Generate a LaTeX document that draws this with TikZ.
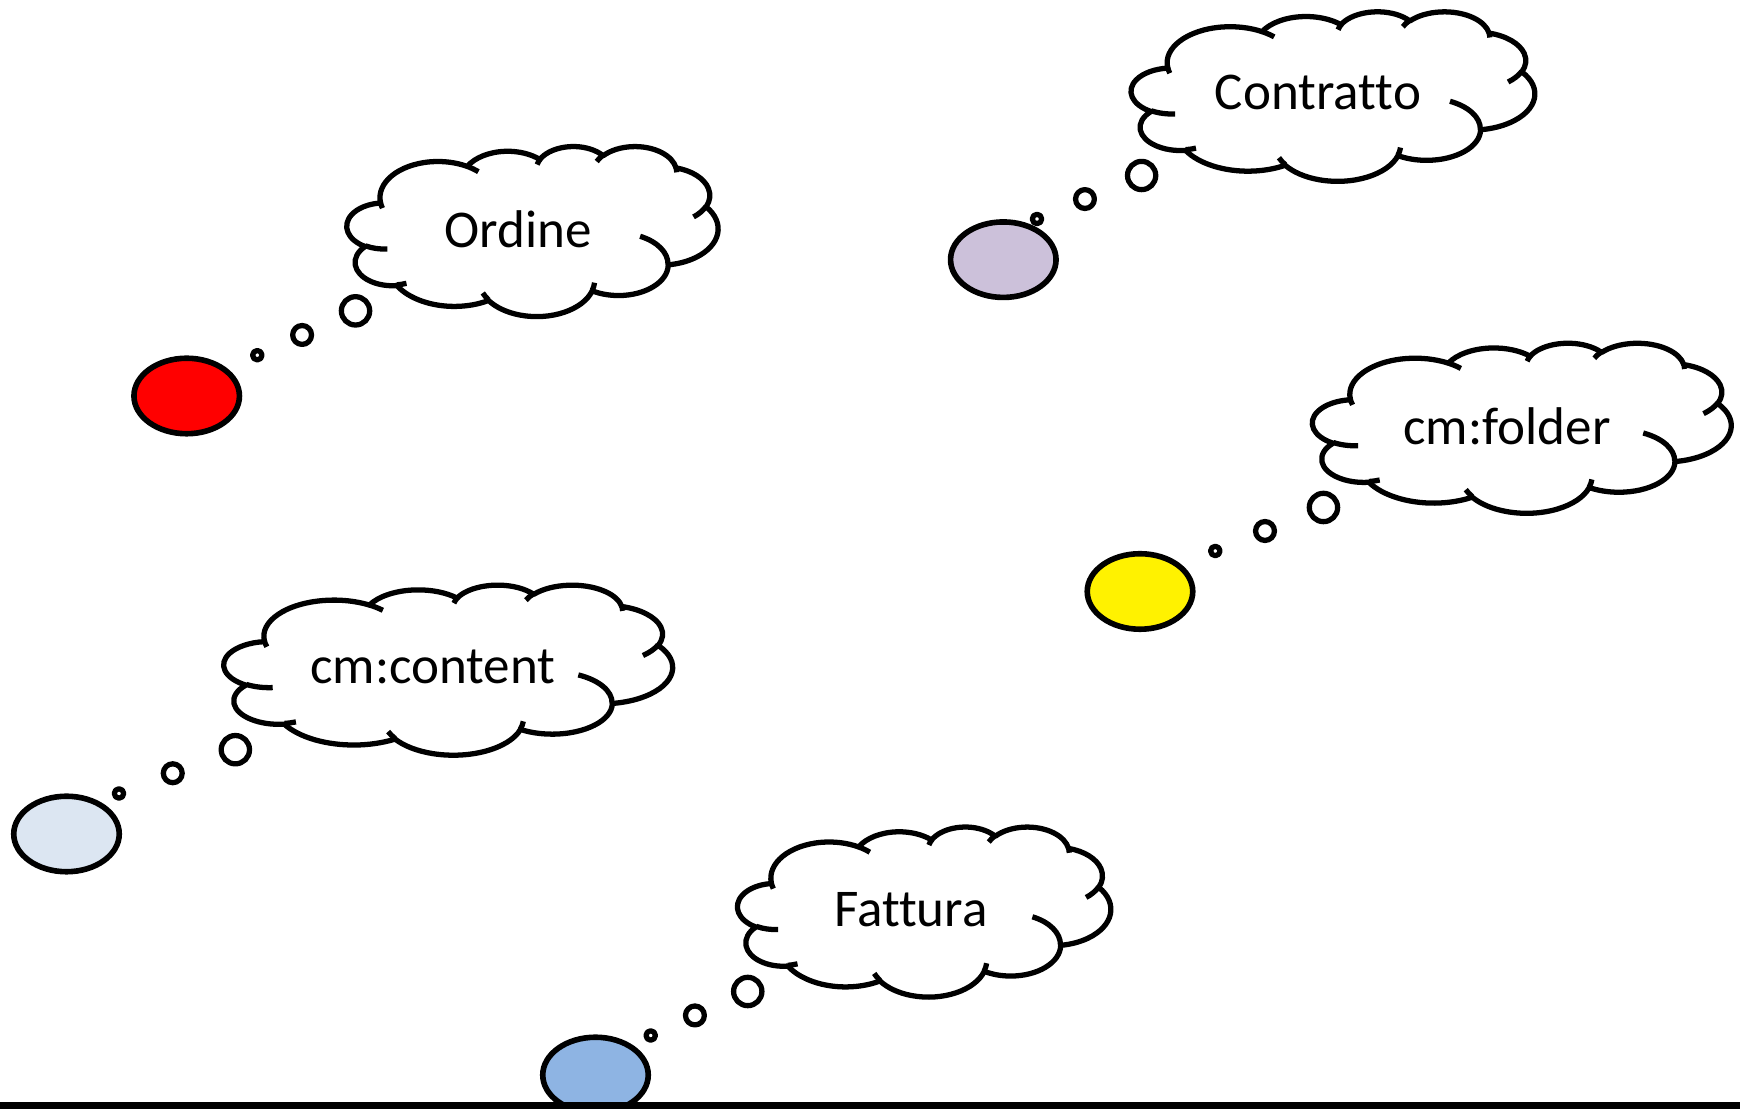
\documentclass[tikz,border=0pt]{standalone}
\usepackage{fontspec}
\setmainfont{Carlito}[Ligatures=NoCommon]
\usetikzlibrary{shapes.geometric}
\definecolor{lilla}{HTML}{CCC1DA}
\definecolor{celeste}{HTML}{DCE6F2}
\definecolor{azzurro}{HTML}{8EB4E3}

% coda del fumetto: centro (#1,#2), semiassi #3 e #4, punta (#5,#6)
\newcommand{\coda}[6]{%
  \pgfmathsetmacro{\codaA}{atan2(#6-#2,#5-#1)}%
  \pgfmathsetmacro{\codaB}{atan2(#3*sin(\codaA),#4*cos(\codaA))}%
  \pgfmathsetmacro{\codaX}{#1+#3*cos(\codaB)-#5}%
  \pgfmathsetmacro{\codaY}{#2+#4*sin(\codaB)-#6}%
  \pgfmathsetmacro{\codaL}{veclen(\codaX,\codaY)}%
  \pgfmathsetmacro{\codaT}{(\codaL-#4*11/18)/3}%
  \pgfmathsetmacro{\codaM}{(\codaT+#4/6)/\codaL}%
  \pgfmathsetmacro{\codaG}{(#4*4/9+2*\codaT)/\codaL}%
  \draw[contorno, fill=white] (#5,#6) circle[radius=#4/18];%
  \draw[contorno, fill=white] ({#5+\codaM*\codaX},{#6+\codaM*\codaY}) circle[radius=#4/9];%
  \draw[contorno, fill=white] ({#5+\codaG*\codaX},{#6+\codaG*\codaY}) circle[radius=#4/6];%
}

\begin{document}
\begin{tikzpicture}
    % Stili
    \tikzset{contorno/.style={line width=1.5pt, line join=round}}%
    \tikzset{macchia/.style={ellipse, draw, contorno, line width=1.6pt, minimum width=1.055cm,
    minimum height=0.755cm, inner sep=0pt}}%
    \tikzset{etichetta/.style={font=\fontsize{15.1}{18}\selectfont, inner sep=0pt}}%
    \tikzset{dim/.style 2 args={xscale=#1/43.2, yscale=-#2/43.2}}%
    \tikzset{ooarc/.code n args={4}{%
        \pgfmathsetmacro{\ooS}{atan2(#1*sin(#3),#2*cos(#3))}%
        \pgfmathsetmacro{\ooE}{atan2(#1*sin(#3+#4),#2*cos(#3+#4))}%
        \pgfmathsetmacro{\ooD}{mod(\ooE-\ooS+720,360)}%
        \pgfkeysalso{x radius=#1, y radius=#2, start angle=\ooS, delta angle=\ooD}}}%
    \tikzset{nuvola/.pic={%
        \begin{scope}[shift={(-21.6,-21.6)}]
        \draw[contorno, fill=white] (3.9,14.37)
        arc[ooarc={6.753}{9.19}{-190.4875}{123.7805}]
        arc[ooarc={5.333}{7.267}{-144.1024}{89.9452}]
        arc[ooarc={4.365}{5.945}{-145.8079}{99.723}]
        arc[ooarc={4.857}{6.595}{-130.9861}{117.2417}]
        arc[ooarc={5.333}{7.273}{-78.7089}{109.0269}]
        arc[ooarc={6.775}{9.22}{-46.2673}{130.269}]
        arc[ooarc={5.785}{7.867}{0.625}{114.0333}]
        arc[ooarc={6.752}{9.215}{22.4516}{115.1726}]
        arc[ooarc={7.72}{10.543}{66.2426}{75.711}]
        arc[ooarc={4.36}{5.918}{-274.9421}{146.7356}]
        arc[ooarc={4.345}{5.945}{-246.8285}{152.5202}] -- cycle;
        \draw[contorno]
        (4.693,26.177) arc[ooarc={4.345}{5.945}{86.742}{26.4295}]
        (6.928,34.899) arc[ooarc={4.36}{5.918}{73.6105}{11.4475}]
        (16.478,39.09) arc[ooarc={6.752}{9.215}{137.6242}{14.0811}]
        (28.827,34.751) arc[ooarc={6.752}{9.215}{6.4533}{15.9984}]
        (34.129,22.954) arc[ooarc={5.785}{7.867}{-70.2924}{70.9174}]
        (41.798,15.354) arc[ooarc={5.333}{7.273}{30.318}{27.7515}]
        (38.324,5.426) arc[ooarc={4.857}{6.595}{-13.7443}{14.8589}]
        (29.078,3.952) arc[ooarc={4.857}{6.595}{-149.1815}{18.1954}]
        (22.141,4.72) arc[ooarc={4.365}{5.945}{-163.4943}{17.6864}]
        (14,5.192) arc[ooarc={6.753}{9.19}{-66.707}{12.3194}]
        (4.127,15.789) arc[ooarc={6.753}{9.19}{157.6544}{11.8582}];
        \end{scope}
    }}%

    % Cornice
    \useasboundingbox (0,0) rectangle (17.4,11.09);%
    \clip (0,0) rectangle (17.4,11.09);%

    % Macchie
    \node[macchia, fill=red] (rosso) at (1.867,7.13) {};%
    \node[macchia, fill=lilla] (viola) at (10.033,8.493) {};%
    \node[macchia, fill=yellow] (giallo) at (11.40,5.175) {};%
    \node[macchia, fill=celeste] (chiaro) at (0.665,2.75) {};%
    \node[macchia, fill=azzurro] (blu) at (5.955,0.34) {};%

    % Nuvole
    \path (5.325,8.78) pic[dim={3.71}{1.70}] {nuvola};%
    \coda{5.325}{8.78}{1.855}{0.85}{2.573}{7.538}%
    \path (13.33,10.13) pic[dim={4.034}{1.695}] {nuvola};%
    \coda{13.33}{10.13}{2.017}{0.8475}{10.37}{8.90}%
    \path (15.2185,6.813) pic[dim={4.185}{1.70}] {nuvola};%
    \coda{15.2185}{6.813}{2.0925}{0.85}{12.153}{5.58}%
    \path (4.4825,4.394) pic[dim={4.485}{1.70}] {nuvola};%
    \coda{4.4825}{4.394}{2.2425}{0.85}{1.19}{3.155}%
    \path (9.242,1.975) pic[dim={3.73}{1.70}] {nuvola};%
    \coda{9.242}{1.975}{1.865}{0.85}{6.507}{0.735}%

    % Testi
    \node[etichetta] (ordine) at (5.18,8.793) {Ordine};%
    \node[etichetta] (contratto) at (13.18,10.17) {Contratto};%
    \node[etichetta] (folder) at (15.07,6.83) {cm:folder};%
    \node[etichetta] (content) at (4.328,4.42) {cm:content};%
    \node[etichetta] (fattura) at (9.11,1.99) {Fattura};%

    % Linea di base
    \fill (0,0) rectangle (17.4,0.065);%
\end{tikzpicture}
\end{document}
